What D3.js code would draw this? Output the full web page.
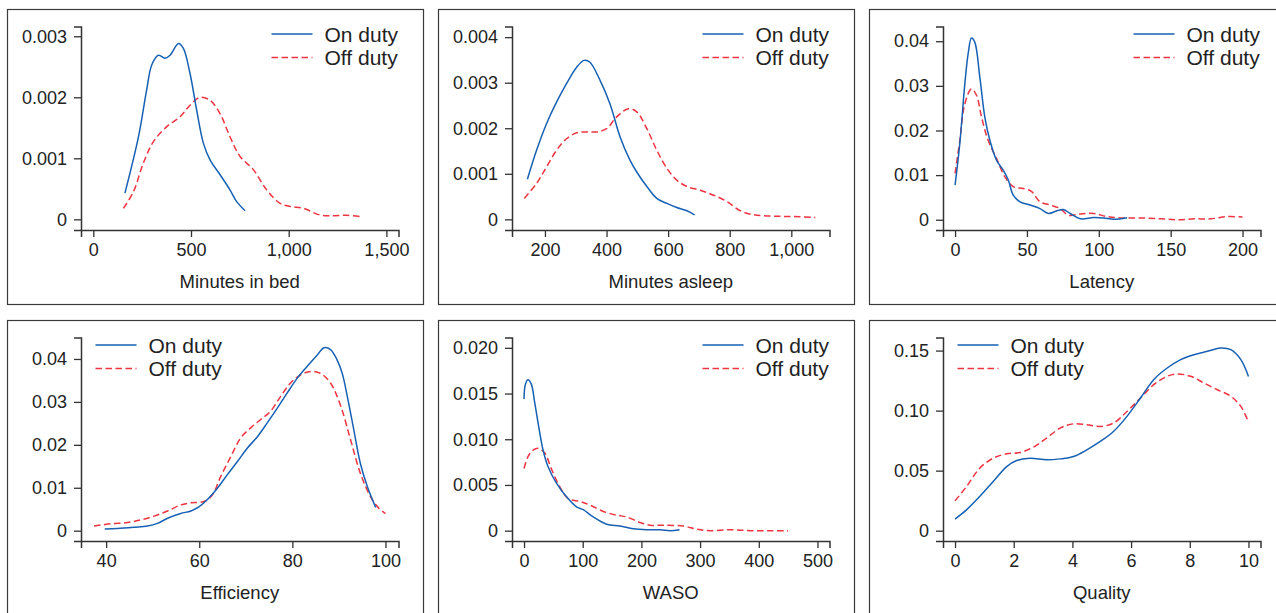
<!DOCTYPE html>
<html>
<head>
<meta charset="utf-8">
<script src="https://cdn.jsdelivr.net/npm/d3@7"></script>
<style>
  body { margin: 0; background: #fff; }
  text { font-family: "Liberation Sans", Arial, sans-serif; fill: #222; }
</style>
</head>
<body>
<svg id="chart" width="1276" height="613"></svg>
<script>
// Werte (x, Dichte)
const bedOn = [[162,0.00043],[231,0.00135],[273,0.00212],[299,0.00253],[333,0.00269],[367,0.00264],[393,0.00269],[436,0.00288],[461,0.0028],[495,0.00239],[529,0.00179],[564,0.00124],[598,0.00097],[649,0.00073],[700,0.00048],[734,0.00029],[777,0.00014]]
const bedOff = [[154,0.00018],[205,0.00045],[256,0.00092],[307,0.00127],[376,0.00152],[444,0.00168],[495,0.00187],[547,0.002],[598,0.00195],[649,0.00173],[700,0.00135],[751,0.00103],[820,0.00081],[888,0.00048],[956,0.00026],[1008,0.00021],[1076,0.00018],[1161,0.00007],[1230,0.00006],[1298,0.000065],[1375,0.00004]]

const asleepOn = [[143,0.00088],[173,0.00152],[205,0.0021],[238,0.00258],[270,0.00298],[303,0.00334],[327,0.00349],[346,0.00345],[379,0.00305],[411,0.00254],[444,0.00181],[476,0.0013],[498,0.00104],[531,0.00072],[563,0.00046],[596,0.00035],[628,0.00026],[661,0.00019],[686,0.0001]]
const asleepOff = [[133,0.00046],[173,0.00079],[205,0.00115],[238,0.00152],[270,0.00177],[303,0.0019],[335,0.00192],[368,0.00192],[400,0.00199],[433,0.00225],[471,0.00243],[498,0.00236],[531,0.00199],[563,0.00152],[596,0.00112],[628,0.00086],[661,0.00072],[704,0.00064],[748,0.00053],[791,0.00039],[834,0.00019],[878,0.0001],[943,0.00007],[1008,0.00006],[1078,0.00004]]

const latencyOn = [[0,0.00775],[3.3,0.0171],[6.8,0.0305],[9.1,0.0372],[11.4,0.0407],[13.7,0.0398],[17.2,0.032],[20.7,0.023],[24.2,0.0178],[28.9,0.0133],[33.5,0.0111],[37,0.0089],[40.5,0.0055],[45.2,0.004],[52.2,0.0033],[59.1,0.0025],[65,0.0014],[70.8,0.002],[75.4,0.0023],[80.1,0.0014],[87.1,0.0002],[96.4,0.0005],[103.4,0.0004],[110.4,0.0001],[119.7,0.00045]]
const latencyOff = [[0,0.0104],[3.3,0.0178],[6.8,0.026],[11.4,0.0293],[14.9,0.0279],[18.4,0.023],[23,0.0178],[28.9,0.0137],[34.7,0.0096],[40.5,0.0074],[47.5,0.007],[53.3,0.0063],[59.1,0.004],[66.1,0.0033],[73.1,0.0025],[78.9,0.001],[87.1,0.0013],[96.4,0.0014],[105.7,0.0007],[115,0.0004],[129,0.0004],[143,0.0002],[154.6,0],[166.2,0.0002],[177.9,0.0002],[189.5,0.0007],[200,0.0006]]

const effOn = [[39.7,0.0004],[42.4,0.0005],[46,0.0008],[48.9,0.0011],[51,0.0017],[53.2,0.0029],[56,0.004],[58.2,0.0046],[60,0.0056],[61.7,0.0072],[63.9,0.0099],[66,0.013],[68.2,0.0161],[70.3,0.0192],[72.5,0.0219],[74.6,0.0251],[76.8,0.0286],[78.9,0.0321],[81.1,0.0356],[83.2,0.0383],[85.4,0.041],[86.8,0.0426],[88.2,0.0422],[89.6,0.0398],[90.7,0.0367],[91.8,0.0313],[93.2,0.0235],[94.6,0.0157],[96.1,0.0103],[97.9,0.0054]]
const effOff = [[37.4,0.0011],[41,0.0016],[44.6,0.0019],[47.4,0.0025],[50.3,0.0034],[53.2,0.0046],[56,0.006],[58.2,0.0065],[61,0.0068],[62.8,0.0083],[64.6,0.0126],[66.8,0.0173],[68.9,0.0216],[71,0.0239],[73.2,0.0259],[75.3,0.0278],[77.5,0.0313],[79.6,0.0344],[81.8,0.0363],[83.9,0.0371],[86.1,0.0366],[88.2,0.0344],[90.4,0.029],[92.5,0.0212],[94.6,0.0134],[96.8,0.0079],[98.6,0.0052],[100,0.004]]

const wasoOn = [[0,0.0144],[2.3,0.016],[6.8,0.0165],[12.5,0.016],[18.2,0.014],[23.9,0.0118],[32.5,0.0088],[41,0.007],[55.3,0.0052],[72.4,0.0037],[89.5,0.0026],[100.9,0.0023],[118,0.0015],[140.8,0.0007],[163.6,0.0005],[186.4,0.0002],[209.2,0.0001],[232,0.0001],[249,0],[265,0.0001]]
const wasoOff = [[0,0.0068],[6.8,0.0081],[15.4,0.0088],[23.9,0.009],[35.3,0.0085],[47,0.0067],[61,0.0048],[75.3,0.0035],[95.2,0.0032],[112.3,0.0028],[135.1,0.0021],[157.9,0.0017],[175,0.0015],[197.8,0.0009],[214.9,0.0006],[237.7,0.0006],[272,0.0005],[294.8,0.00015],[317.6,0],[351.8,0.0001],[386,0],[420,0],[450,0]]

const qualOn = [[0,0.0097],[0.39,0.0173],[0.84,0.0284],[1.3,0.0409],[1.76,0.0534],[2.1,0.0584],[2.55,0.0604],[3.12,0.059],[3.58,0.0598],[4.04,0.0618],[4.49,0.0673],[4.95,0.0743],[5.4,0.0826],[5.86,0.0952],[6.32,0.1105],[6.77,0.1258],[7.23,0.1355],[7.69,0.1425],[8.14,0.1466],[8.6,0.1494],[9.05,0.1522],[9.4,0.1508],[9.74,0.1425],[10,0.1285]]
const qualOff = [[0,0.0248],[0.39,0.0367],[0.84,0.052],[1.3,0.0604],[1.76,0.064],[2.21,0.0651],[2.67,0.0696],[3.12,0.0771],[3.58,0.0854],[4.04,0.089],[4.49,0.0882],[4.95,0.0868],[5.4,0.0896],[5.86,0.0993],[6.32,0.1105],[6.77,0.1216],[7.23,0.1286],[7.57,0.1305],[8.03,0.1286],[8.48,0.123],[8.94,0.1174],[9.4,0.1119],[9.74,0.1035],[10,0.0902]]

// Achsenbeschriftungen
const titles = ["Minutes in bed", "Minutes asleep", "Latency", "Efficiency", "WASO", "Quality"]
const xTicks = [[0, 500, 1000, 1500], [200, 400, 600, 800, 1000], [0, 50, 100, 150, 200], [40, 60, 80, 100], [0, 100, 200, 300, 400, 500], [0, 2, 4, 6, 8, 10]]
const yTicks = [[0, 0.001, 0.002, 0.003], [0, 0.001, 0.002, 0.003, 0.004], [0, 0.01, 0.02, 0.03, 0.04], [0, 0.01, 0.02, 0.03, 0.04], [0, 0.005, 0.010, 0.015, 0.020], [0, 0.05, 0.10, 0.15]]
const yFormats = [".3f", ".3f", ".2f", ".2f", ".3f", ".2f"]
const legendLabels = ["On duty", "Off duty"]

// Achsenbereiche (Datenkoordinaten)
const xDomains = [[-63, 1562], [93, 1124], [-8.4, 212.5], [34.6, 102.8], [-20.5, 520.5], [-0.41, 10.41]]
const yDomains = [[-0.000175, 0.00316], [-0.000234, 0.004234], [-0.0023, 0.0433], [-0.0024, 0.045], [-0.00113, 0.02113], [-0.0086, 0.1609]]

const series = [[bedOn, bedOff], [asleepOn, asleepOff], [latencyOn, latencyOff], [effOn, effOff], [wasoOn, wasoOff], [qualOn, qualOff]]
const legendLeft = [false, false, false, true, false, true]

const colorOn = "#1661b4"
const colorOff = "#ee3440"

const colLeft = [7.5, 438.5, 869.5]
const rowTop = [9.5, 320.5]
const boxW = 416
const boxH = [295, 320]
const axisX0 = 73.5
const axisX1 = 391
const axisY0 = 17
const axisY1 = 220.5

const tickFont = 18
const titleFont = 18.5
const legendFont = 21

const svg = d3.select("#chart")

series.forEach((pair, i) => {
  const bx = colLeft[i % 3]
  const by = rowTop[Math.floor(i / 3)]
  const g = svg.append("g").attr("transform", "translate(" + bx + "," + by + ")")

  // Rahmen
  g.append("rect")
    .attr("width", boxW)
    .attr("height", boxH[Math.floor(i / 3)])
    .attr("fill", "none")
    .attr("stroke", "#3a3a3a")
    .attr("stroke-width", 1.2)

  const x = d3.scaleLinear().domain(xDomains[i]).range([axisX0, axisX1])
  const y = d3.scaleLinear().domain(yDomains[i]).range([axisY1, axisY0])

  // x-Achse
  const xAxis = g.append("g")
    .attr("transform", "translate(0," + axisY1 + ")")
    .call(d3.axisBottom(x).tickValues(xTicks[i]).tickFormat(d3.format(",")).tickSizeOuter(0).tickSize(7).tickPadding(6))
  xAxis.select(".domain").attr("stroke", "#333").attr("stroke-width", 1.5)
  xAxis.selectAll(".tick line").attr("stroke", "#333").attr("stroke-width", 1.3)
  xAxis.selectAll(".tick text").attr("font-size", tickFont).attr("fill", "#222")
    .attr("font-family", "Liberation Sans, Arial, sans-serif")

  // y-Achse
  const yAxis = g.append("g")
    .attr("transform", "translate(" + axisX0 + ",0)")
    .call(d3.axisLeft(y).tickValues(yTicks[i]).tickFormat(d => d === 0 ? "0" : d3.format(yFormats[i])(d)).tickSizeOuter(0).tickSize(7).tickPadding(7))
  yAxis.select(".domain").attr("stroke", "#333").attr("stroke-width", 1.5)
  yAxis.selectAll(".tick line").attr("stroke", "#333").attr("stroke-width", 1.3)
  yAxis.selectAll(".tick text").attr("font-size", tickFont).attr("fill", "#222")
    .attr("font-family", "Liberation Sans, Arial, sans-serif")

  // Achsentitel
  g.append("text")
    .attr("x", (axisX0 + axisX1) / 2)
    .attr("y", axisY1 + 58)
    .attr("text-anchor", "middle")
    .attr("font-size", titleFont)
    .text(titles[i])

  // Kurven
  const line = d3.line()
    .x(d => x(d[0]))
    .y(d => y(d[1]))
    .curve(d3.curveCatmullRom.alpha(0.5))

  g.append("path")
    .datum(pair[1])
    .attr("d", line)
    .attr("fill", "none")
    .attr("stroke", colorOff)
    .attr("stroke-width", 1.5)
    .attr("stroke-dasharray", "6.5,3.5")

  g.append("path")
    .datum(pair[0])
    .attr("d", line)
    .attr("fill", "none")
    .attr("stroke", colorOn)
    .attr("stroke-width", 1.5)

  // Legende
  const lx = legendLeft[i] ? 88 : 264
  const leg = g.append("g").attr("transform", "translate(" + lx + ",0)")
  legendLabels.forEach((lab, k) => {
    const ly = 24.5 + k * 23.5
    leg.append("line")
      .attr("x1", 0).attr("x2", 41)
      .attr("y1", ly).attr("y2", ly)
      .attr("stroke", k == 0 ? colorOn : colorOff)
      .attr("stroke-width", 1.5)
      .attr("stroke-dasharray", k == 0 ? null : "6.5,3.5")
    leg.append("text")
      .attr("x", 53)
      .attr("y", ly)
      .attr("dy", "0.36em")
      .attr("font-size", legendFont)
      .text(lab)
  })
})
</script>
</body>
</html>
